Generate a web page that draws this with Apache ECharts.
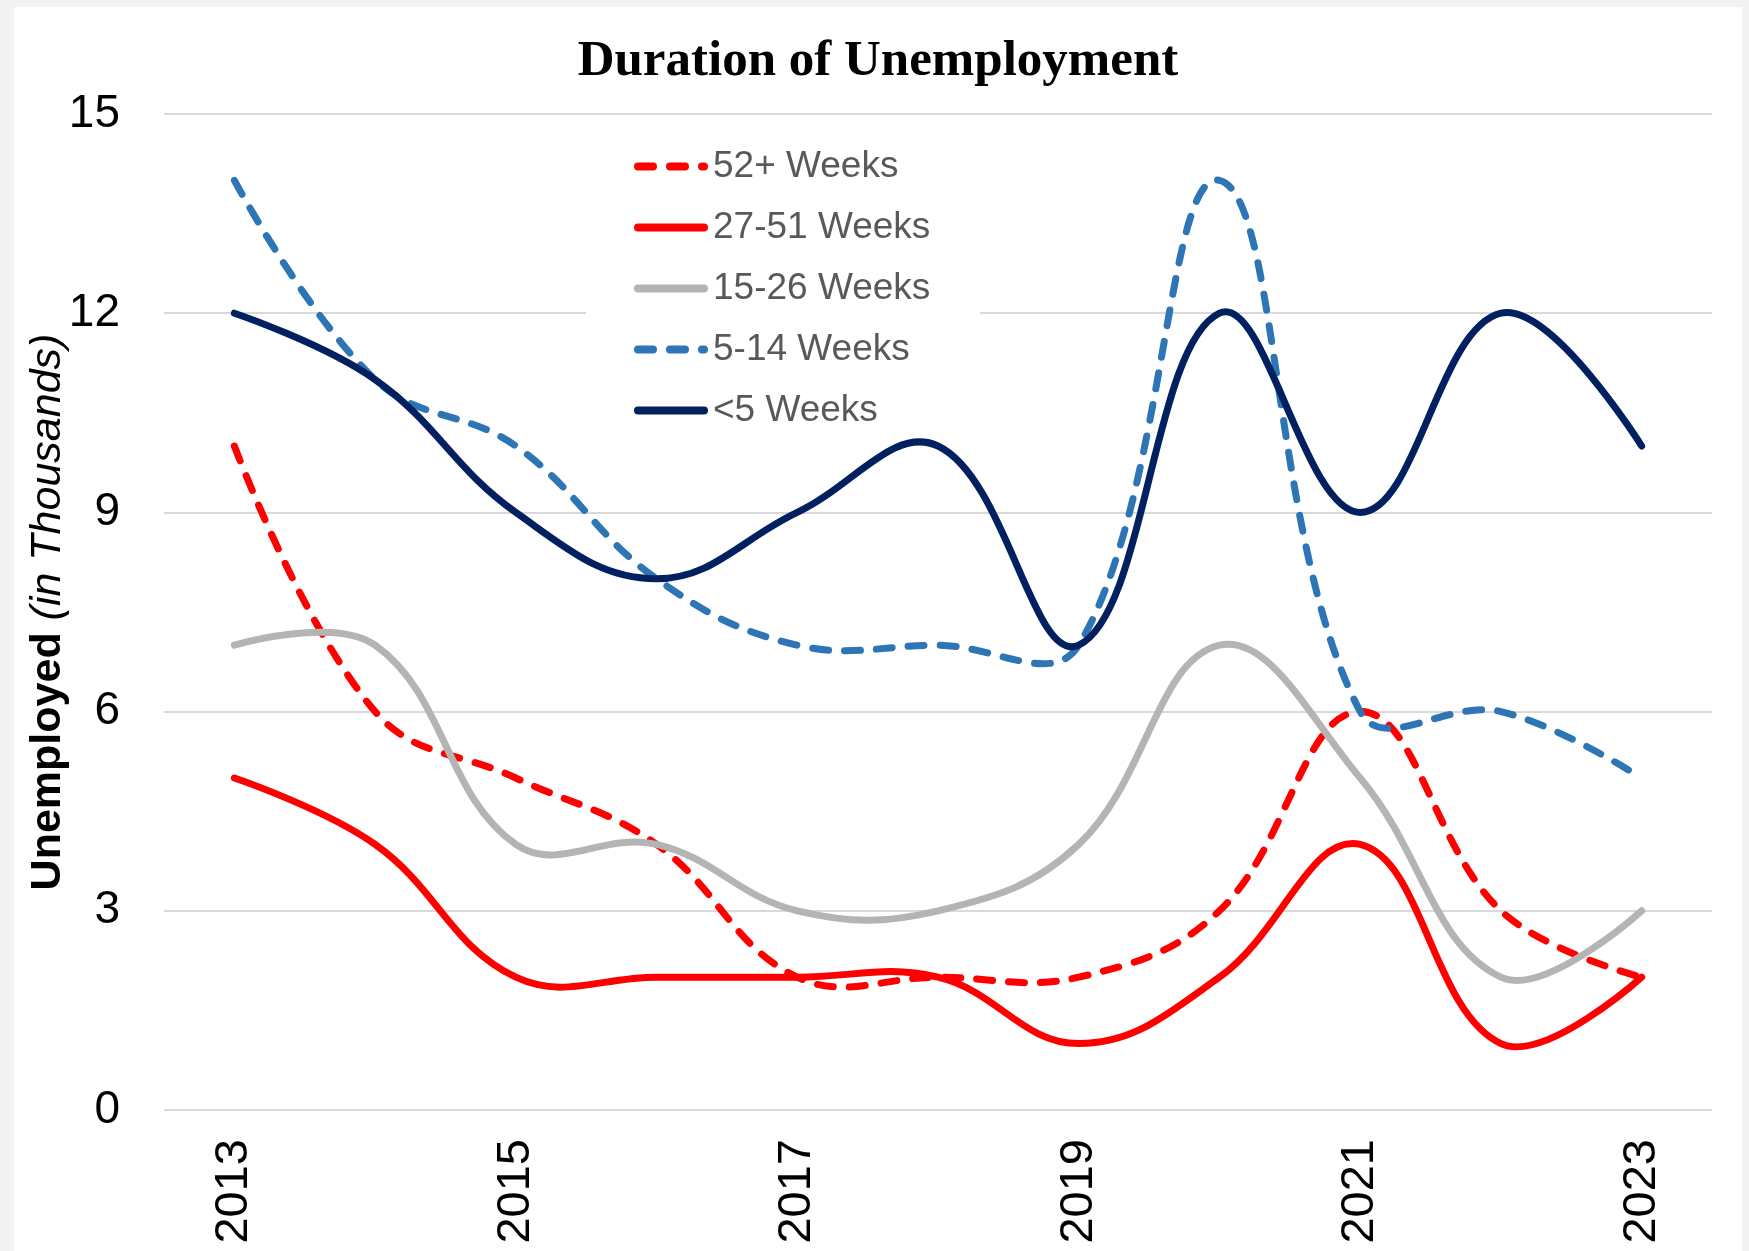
<!DOCTYPE html>
<html>
<head>
<meta charset="utf-8">
<title>Duration of Unemployment</title>
<script src="https://cdn.jsdelivr.net/npm/echarts@6/dist/echarts.min.js"></script>
<style>
    html, body { margin: 0; padding: 0; background: #f2f2f2; }
    #paper { position: absolute; left: 14px; top: 7px; width: 1728px; height: 1244px; background: #fff; }
    #main { position: absolute; left: 0; top: 0; width: 1749px; height: 1251px; }
</style>
</head>
<body>
<div id="paper"></div>
<div id="main"></div>
<script>
// years on the x axis
var years = ['2013', '2014', '2015', '2016', '2017', '2018', '2019', '2020', '2021', '2022', '2023'];
var seriesNames = ['52+ Weeks', '27-51 Weeks', '15-26 Weeks', '5-14 Weeks', '<5 Weeks'];

// unemployed, in thousands
var weeks52plus = [10, 6, 5, 4, 2, 2, 2, 3, 6, 3, 2];
var weeks27to51 = [5, 4, 2, 2, 2, 2, 1, 2, 4, 1, 2];
var weeks15to26 = [7, 7, 4, 4, 3, 3, 4, 7, 5, 2, 3];
var weeks5to14 = [14, 11, 10, 8, 7, 7, 7, 14, 6, 6, 5];
var weeksUnder5 = [12, 11, 9, 8, 9, 10, 7, 12, 9, 12, 10];

var yTicks = [0, 3, 6, 9, 12, 15];

// legend icons: rounded dash-dash-dot and a solid rounded bar (74 x 8)
var iconSolid = 'path://M4,0H70A4,4,0,0,1,70,8H4A4,4,0,0,1,4,0Z';
var iconDashed = 'path://M4,0H19A4,4,0,0,1,19,8H4A4,4,0,0,1,4,0Z' +
    'M36,0H51A4,4,0,0,1,51,8H36A4,4,0,0,1,36,0Z' +
    'M68,0H70A4,4,0,0,1,70,8H68A4,4,0,0,1,68,0Z';

// smooth curve like the spreadsheet one (it may overshoot between points)
function curveSeries(name, values, color, dashed) {
    return {
        name: name,
        type: 'custom',
        coordinateSystem: 'cartesian2d',
        data: values.map(function (v, i) { return [i, v] }),
        encode: { x: 0, y: 1 },
        itemStyle: { color: color },
        renderItem: function (params, api) {
            if (params.dataIndex !== 0) {
                return null
            }
            var pts = values.map(function (v, i) { return api.coord([i, v]) });
            return {
                type: 'polyline',
                shape: { points: pts, smooth: 0.4 },
                style: {
                    fill: null,
                    stroke: color,
                    lineWidth: 7,
                    lineDash: dashed ? [16, 16] : null,
                    lineCap: 'round',
                    lineJoin: 'round'
                }
            }
        }
    }
}

var chart = echarts.init(document.getElementById('main'), null, { renderer: 'canvas' });
chart.setOption({
    backgroundColor: 'transparent',
    animation: false,
    title: {
        text: 'Duration of Unemployment',
        left: 873,
        textAlign: 'center',
        top: 31,
        textStyle: {
            fontFamily: 'Liberation Serif',
            fontWeight: 'bold',
            fontSize: 51,
            color: '#000'
        }
    },
    grid: {
        left: 164,
        right: 37,
        top: 114,
        bottom: 141
    },
    legend: {
        orient: 'vertical',
        left: 586,
        top: 136,
        padding: [12, 50, 4, 48],
        itemGap: 24,
        itemWidth: 74,
        itemHeight: 8,
        backgroundColor: '#fff',
        data: [
            { name: seriesNames[0], icon: iconDashed },
            { name: seriesNames[1], icon: iconSolid },
            { name: seriesNames[2], icon: iconSolid },
            { name: seriesNames[3], icon: iconDashed },
            { name: seriesNames[4], icon: iconSolid }
        ],
        textStyle: {
            fontFamily: 'Liberation Sans',
            fontSize: 37,
            lineHeight: 37,
            color: '#595959',
            padding: [0, 0, 0, 0]
        }
    },
    xAxis: {
        type: 'category',
        data: years,
        boundaryGap: true,
        axisLine: { show: false },
        axisTick: { show: false },
        axisLabel: {
            interval: 1,
            rotate: 90,
            margin: 29,
            fontFamily: 'Liberation Sans',
            fontSize: 47,
            color: '#000'
        }
    },
    yAxis: {
        type: 'value',
        min: yTicks[0],
        max: yTicks[yTicks.length - 1],
        interval: 3,
        name: '{b|Unemployed}{i| (in Thousands)}',
        nameLocation: 'middle',
        nameGap: 94,
        nameMoveOverlap: false,
        nameTextStyle: {
            rich: {
                b: { fontFamily: 'Liberation Sans', fontWeight: 'bold', fontSize: 43, color: '#000' },
                i: { fontFamily: 'Liberation Sans', fontStyle: 'italic', fontSize: 43, color: '#000' }
            }
        },
        axisLine: { show: false },
        axisTick: { show: false },
        axisLabel: {
            margin: 44,
            fontFamily: 'Liberation Sans',
            fontSize: 46,
            color: '#000'
        },
        splitLine: {
            lineStyle: { color: '#d9d9d9', width: 2 }
        }
    },
    series: [
        curveSeries(seriesNames[0], weeks52plus, '#ff0000', true),
        curveSeries(seriesNames[1], weeks27to51, '#ff0000', false),
        curveSeries(seriesNames[2], weeks15to26, '#b4b4b4', false),
        curveSeries(seriesNames[3], weeks5to14, '#2e75b6', true),
        curveSeries(seriesNames[4], weeksUnder5, '#002060', false)
    ]
});
</script>
</body>
</html>
